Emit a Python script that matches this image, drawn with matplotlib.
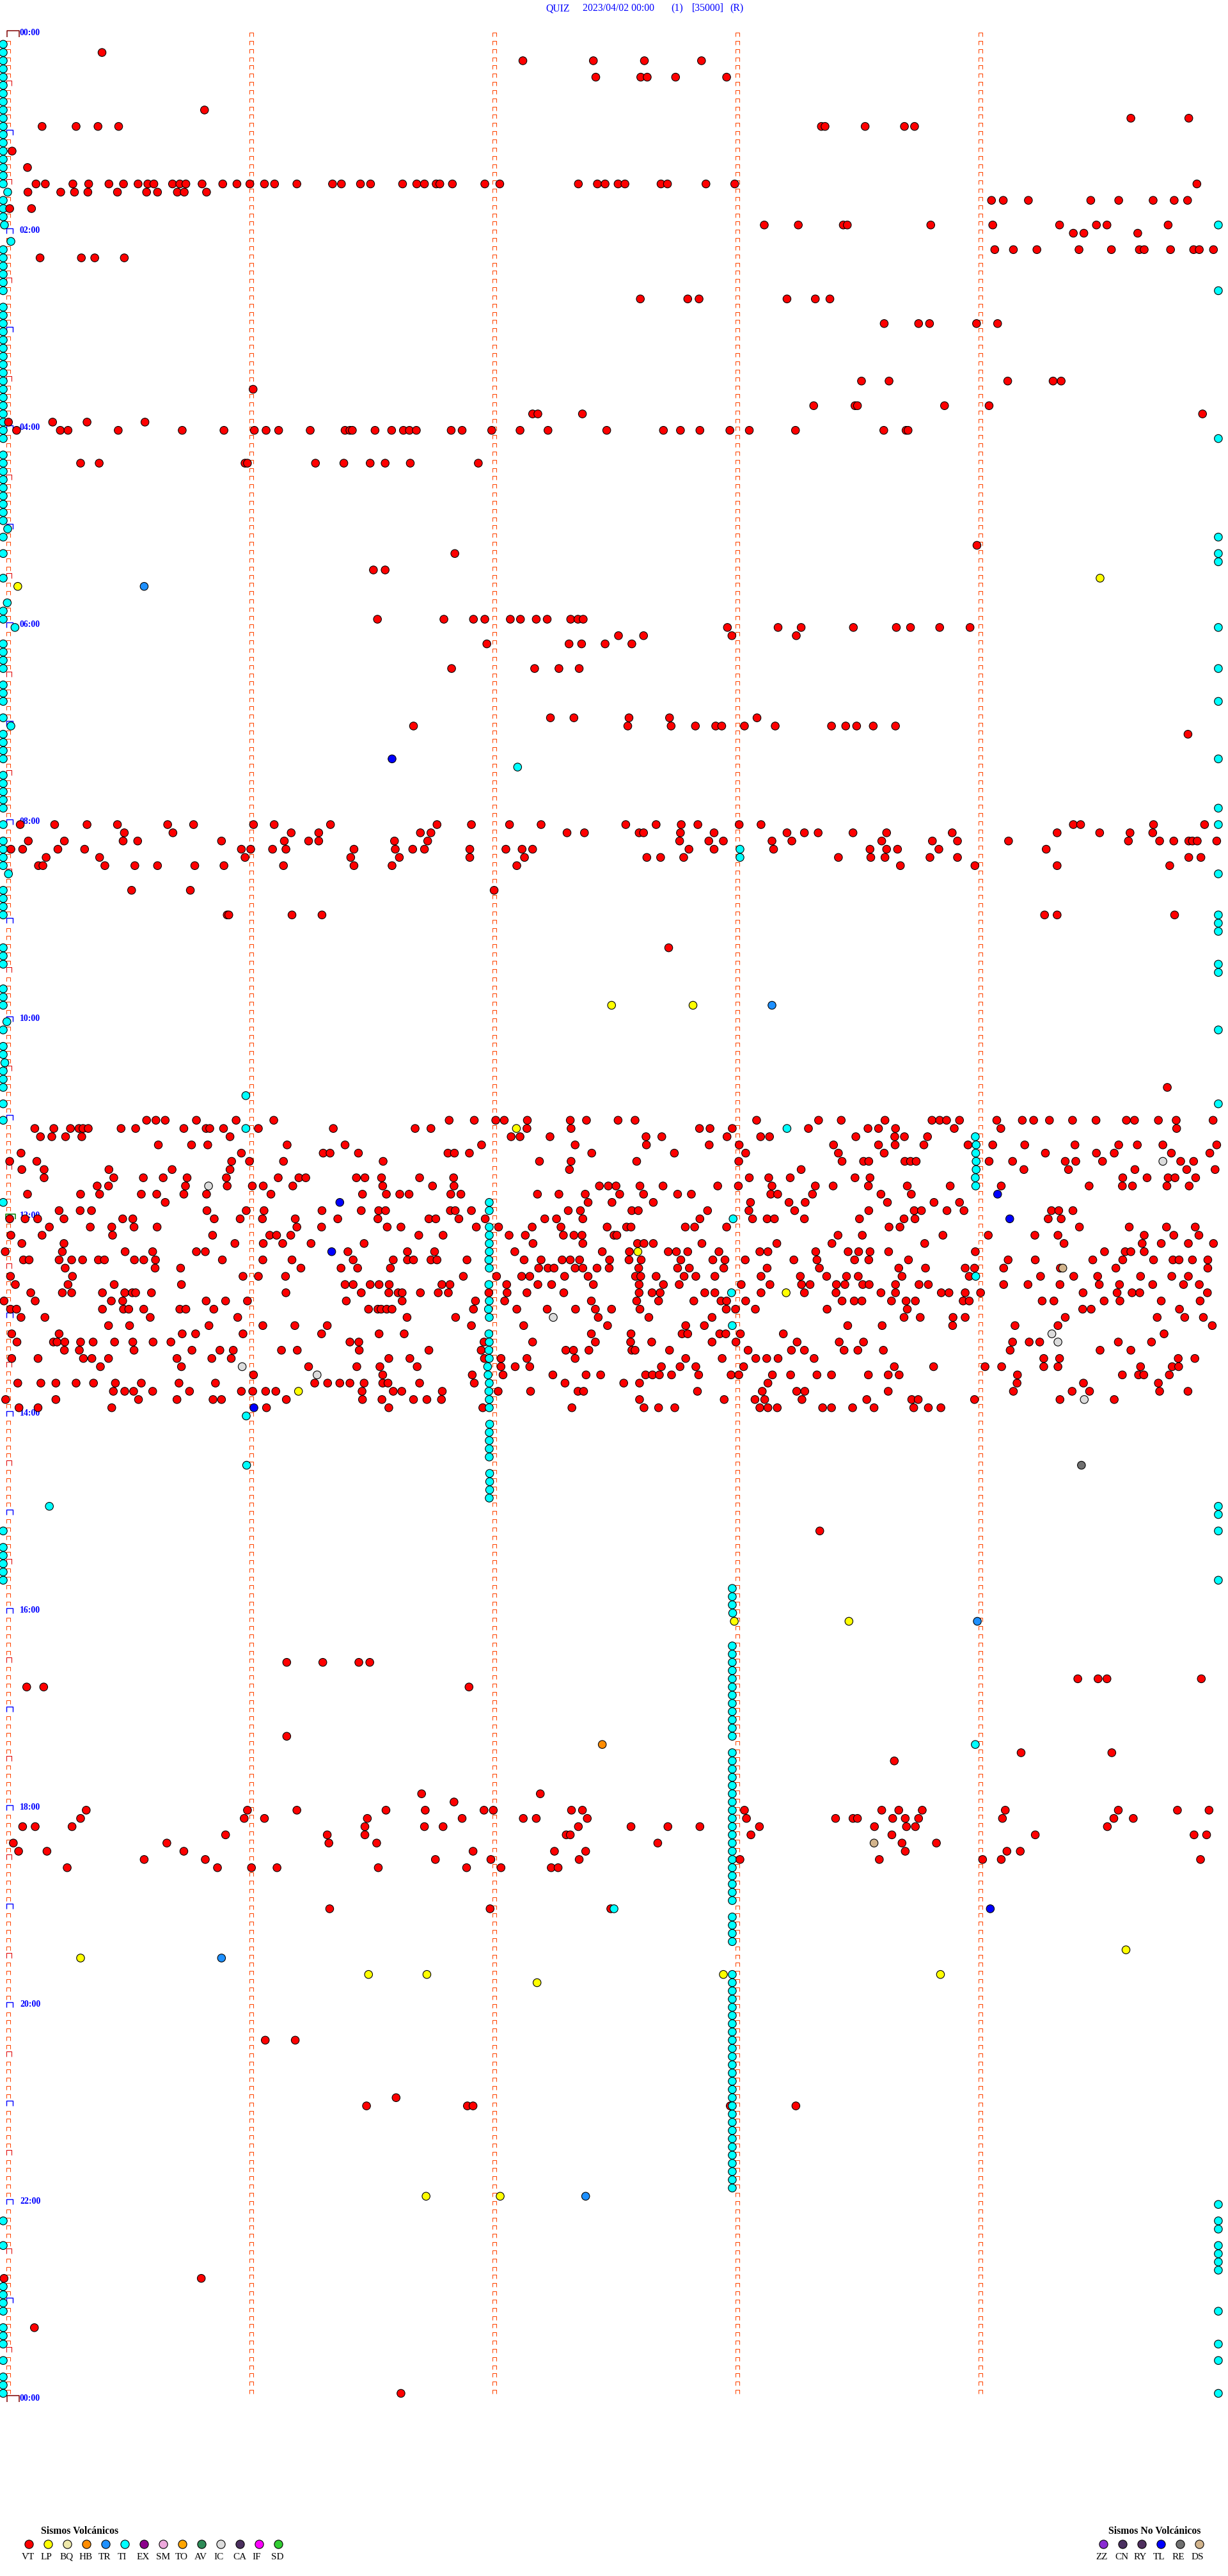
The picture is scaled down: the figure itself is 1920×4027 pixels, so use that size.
import matplotlib
matplotlib.use('Agg')
import matplotlib.pyplot as plt
from matplotlib.path import Path

# one row per 5 minutes, x is the second inside that row
# {row: [seconds]}
vt_00_04 = {
    2: [24.4], 3: [128.3, 145.7, 158.3, 172.4],
    5: [146.3, 157.4, 159, 166, 178.6], 9: [49.7],
    10: [278.4, 292.7],
    11: [9.6, 18, 23.4, 28.5, 202, 202.9, 212.8, 222.5, 225],
    14: [2.2], 16: [6],
    18: [8.1, 10.4, 17.2, 21.1, 26.1, 29.7, 33.3, 35.7, 37.2, 41.8, 43.6, 45.1, 49.1, 54.2, 57.7, 60.9,
         64.5, 67, 72.5, 81.3, 83.5, 88.2, 90.7, 98.6, 102.1, 104, 106.9, 107.8, 110.9, 118.9, 122.6,
         142, 146.7, 148.6, 151.8, 153.5, 162.4, 164, 173.5, 180.6, 294.7],
    19: [6.1, 14.2, 17.6, 20.9, 28.2, 35.4, 38.1, 43, 44.7, 50.2],
    20: [244, 246.9, 253.1, 268.5, 275.4, 283.9, 289.1, 292.4],
    21: [1.6, 7],
    23: [187.9, 196.3, 207.4, 208.4, 229, 244.3, 260.8, 269.9, 272.5, 287.6],
    24: [264.2, 266.8, 280.1],
    26: [244.8, 249.4, 255.2, 265.6, 273.6, 280.5, 281.7, 288.2, 293.9, 295.3, 298.8],
    27: [9.1, 19.3, 22.6, 29.9],
    32: [157.3, 169, 171.8, 193.5, 200.5, 204.1],
    35: [217.5, 226, 228.7, 240.3, 245.5],
    42: [211.9, 218.7, 248, 259.2, 261.2],
    43: [61.7],
    45: [200.1, 210.3, 210.9, 232.4, 243.4],
    46: [130.7, 132, 143, 296.1],
    47: [1.3, 12.2, 20.7, 35],
    48: [3.3, 14.1, 16, 28.4, 44.2, 54.5, 62, 64.9, 68, 75.8, 84.4, 85.6, 86.2, 91.8, 95.9, 98.8, 100.3,
         102, 110.6, 113.3, 120.6, 127.6, 134.5, 149, 163, 167.2, 172, 179.4, 184.2, 195.6, 217.4, 222.9, 223.4],
    52: [19.1, 23.7, 59.7, 60.3, 77.1, 84.1, 90.6, 94.3, 100.5, 117.3],
}

vt_05_10 = {
    62: [240.4], 63: [111.5], 65: [91.4, 94.3],
    71: [92.4, 108.8, 116.1, 118.9, 125.2, 127.7, 131.6, 134.3, 140.1, 141.9, 143.2],
    72: [178.8, 191.3, 197, 209.9, 220.5, 224, 231.2, 238.7],
    73: [151.9, 158.1, 179.9, 195.8],
    74: [119.4, 139.7, 142.8, 148.6, 155.2],
    77: [110.7, 131.2, 137.2, 142.2],
    83: [135.1, 140.9, 154.5, 164.5, 186.1],
    84: [101.3, 154.2, 164.9, 170.9, 175.9, 177.4, 183, 190.6, 204.5, 208, 210.7, 214.8, 220.3],
    85: [292.5],
    96: [4.2, 12.7, 20.7, 28.2, 40.6, 47, 61.8, 66.9, 80.8, 107.1, 115.6, 125, 132.8, 153.7, 161.2, 167.4,
         171.5, 181.7, 187.1, 264.2, 266, 284, 296.6],
    97: [29.9, 41.9, 71.1, 77.9, 103, 105.6, 139.2, 143.5, 157, 158.1, 167.2, 175.5, 193.5, 197.8, 201.2,
         209.8, 218.1, 234.3, 260.2, 270.7, 278.2, 283.8],
    98: [6.2, 15.1, 29.6, 33.2, 53.9, 69.4, 75.4, 77.9, 96.6, 104.8, 167, 174.2, 177.8, 189.8, 194.7, 216.9,
         229.4, 235.6, 248.2, 277.8, 285.5, 289, 292.7, 293.6, 294.8, 299.6],
    99: [1.9, 4.8, 13.5, 20.1, 58.8, 61.1, 66.5, 69.8, 86.6, 96.8, 101.1, 104, 115.2, 124.1, 128.1, 130.7,
         169.3, 175.5, 190.2, 214, 218.1, 220.8, 231, 257.5],
    100: [10.6, 23.8, 59.7, 85.8, 97.8, 115.2, 128.7, 158.9, 162.3, 168, 206.2, 214.2, 217.7, 228.8, 235.6,
          292.7, 295.7],
    101: [8.7, 9.8, 25.1, 32.5, 38.1, 47.3, 54.5, 69.2, 86.6, 96, 126.8, 221.5, 239.9, 260.2, 288],
    104: [31.7, 46.2, 121.2],
    107: [55.3, 55.7, 71.3, 78.7, 257.1, 260.2, 289.2],
    111: [164.3], 128: [287.4],
}

vt_11_12 = {
    132: [35.4, 37.7, 40, 47.7, 57.5, 66.8, 110.1, 116.3, 121.6, 123.7, 129.4, 140, 144, 151.8, 156, 186, 201.3,
          206.9, 217.7, 229.3, 231.2, 232.9, 236.1, 245.3, 251.6, 254.4, 258.3, 264, 269.8, 277.3, 279.3, 285.2,
          289.6, 298.7],
    133: [7.8, 12.5, 16.6, 18.7, 19.7, 21, 29.1, 32.7, 44.6, 50.1, 51, 54.4, 63, 81.5, 101.7, 105.6, 129.3,
          140.2, 171.9, 174.5, 180, 198.8, 213.5, 216.1, 220.3, 234.8, 246.3, 289.7],
    134: [9.2, 12, 15.4, 19.4, 56, 125.4, 127.6, 135, 158.7, 162.6, 178.7, 187, 189.2, 210.5, 220.1, 222.5, 228.2],
    135: [38.3, 46.5, 50.5, 70.1, 84.4, 118.1, 141.2, 158.8, 174.3, 181.7, 205, 216.1, 220.2, 227.3, 238.2, 244.3,
          252.2, 264.6, 275.4, 280, 286.3, 299.6],
    136: [4.4, 58.8, 79, 80.7, 87.7, 109.8, 111.4, 115.1, 145.3, 165.7, 183.3, 206.2, 217.5, 257.3, 269.9, 274.3,
          288.4, 297.9],
    137: [1.6, 8.3, 56.4, 60.8, 69.2, 93.8, 132.4, 140.2, 156.4, 181.6, 207.1, 212.4, 213.7, 222.6, 224, 225.4,
          243.4, 249.2, 262.2, 264.8, 271.4, 290.7, 293.9],
    138: [4.6, 10.1, 26.1, 41.7, 56, 139.8, 197, 252, 263, 279.4, 292.2, 299.2],
    139: [10.1, 27.3, 34.6, 39.5, 45.4, 55.1, 67.9, 73, 74.7, 87.2, 89.3, 93.4, 102.8, 111.2, 184.2, 189, 194.3,
          210.3, 214, 276.4, 282.4, 287.6, 289.3, 294.4],
    140: [23.2, 26, 45, 55.3, 61.5, 64.2, 71.5, 93.7, 106, 111.3, 147.2, 149.4, 151.3, 157.2, 162.9, 176.4, 181.5,
          189.8, 200.5, 204.9, 213.6, 223.2, 233.8, 246.4, 268.1, 276.3, 278.8, 287.3, 292.8],
    141: [6, 19.1, 23.8, 34.1, 37.9, 44.6, 50.2, 66.1, 88.7, 94.6, 97.9, 100.2, 110.5, 113, 131.9, 137.2, 143.7,
          152.2, 158.1, 166.5, 169.9, 189.5, 191.2, 199.8, 216.7, 224.2],
    142: [40, 144.4, 150.3, 160.5, 184.5, 194, 198, 218.3, 229.8, 236.1],
    143: [13.8, 19, 21.8, 50.3, 60, 64.4, 78.7, 88.4, 92.7, 94.4, 110.4, 111.6, 115.6, 139.5, 142.5, 155.2, 156.8,
          173.9, 184.1, 195.4, 213.7, 224.9, 226.7, 233, 237.2, 258.8, 260.6, 264.1],
    144: [1.6, 5.4, 8.5, 15, 29.5, 32, 52.1, 58.5, 64, 72.1, 82.6, 92.5, 105.1, 106.8, 112.5, 119, 133.7, 136.6,
          143.1, 172, 185, 188.6, 190.4, 197.8, 211.4, 222.4, 225.1, 258, 261.2],
    145: [11.4, 21.5, 26.8, 32.3, 38, 72.5, 78.6, 94.8, 98.2, 116.8, 122.3, 130.6, 137.7, 149.1, 153.9, 155, 168.4,
          170.7, 178.6, 218.7, 221.4, 265.7, 278, 287.2, 294.3],
    146: [1.9, 9.6, 27, 51.7, 65.8, 67.5, 71, 102.6, 108.6, 124.9, 128.9, 138.3, 140.9, 142.9, 150.8, 151.5, 206.1,
          212.1, 232, 243.2, 254.7, 260.4, 281.7, 289, 295.2],
    147: [4.6, 15, 57.2, 64.2, 69, 76, 89.1, 130.8, 143.1, 156.6, 158.2, 160.5, 172.5, 191, 204.6, 227.5, 261.9,
          281.2, 285.9, 292.6, 298.8],
    148: [0.5, 14.6, 30.1, 36.9, 47.7, 49.9, 85.1, 99.8, 106.5, 126.3, 147.9, 154.6, 164.2, 166.2, 169, 176.7, 186.8,
          188.8, 200.6, 208.6, 211.2, 214, 218.6, 240, 271.9, 277, 278.4, 281.7],
    149: [5, 6.4, 13.8, 16.9, 19.6, 23.5, 25, 32.4, 34.7, 37.6, 54.1, 64.1, 71.3, 86.4, 96.3, 99.8, 101.3, 105.6,
          107.1, 114.5, 128.6, 132.8, 138, 140, 142.3, 149.7, 154.5, 157.5, 167.3, 175.2, 178.2, 183.2, 195.2, 200.9,
          210.2, 213.7, 223.5, 248.1, 254.8, 269, 276.4, 284, 288.8, 290.3, 293.6, 297.4],
}

vt_12_14 = {
    150: [15.3, 37.5, 43.8, 73.5, 83.4, 87.5, 95.6, 132.2, 134.5, 136, 141.2, 143.1, 146.6, 149.6, 156.9, 166.5,
          169.4, 177.9, 188.6, 201.5, 221.1, 227.7, 237.5, 239.8, 247, 261, 274.7, 297.4],
    151: [1.8, 17.1, 59.2, 63, 69.7, 113.6, 121.8, 128, 130, 138.6, 144.4, 156.1, 157.4, 161.2, 168.1, 171, 175.7,
          187.1, 196.8, 203.3, 208.2, 211.1, 221.9, 238.5, 256.1, 264.3, 270.2, 280.8, 288.5, 292.6],
    152: [3, 16, 27.4, 44, 84.4, 86.4, 90.6, 92.8, 95.3, 108.3, 110.3, 124.3, 132, 135.4, 145.7, 157, 163, 166.9,
          182.2, 189.3, 197.1, 199.2, 205.7, 207.8, 212.2, 213.8, 220.3, 226.1, 228.4, 247, 253, 260.9, 270.6, 275.6,
          283.8, 291.4, 295.3],
    153: [6.8, 14.6, 16.9, 24.5, 30, 31.9, 32.7, 36.6, 69.8, 88.4, 95.2, 97.5, 98.5, 103, 107.4, 109.9, 119.9, 124.4,
          129.3, 138.4, 157, 160.2, 162.2, 173.2, 175.7, 187.1, 197.8, 205.6, 216.7, 220.3, 231.6, 233.5, 237.5, 241.3,
          266.6, 275, 278.7, 280.6, 297.3],
    154: [0.2, 7.9, 26.7, 29.5, 50.1, 54.9, 60.3, 84.7, 98.5, 116.6, 123.8, 145.2, 156.4, 161.8, 170.5, 177.2, 178.6,
          183.3, 207.1, 210.1, 212, 219.3, 222.9, 225.2, 237, 238.5, 256.5, 259.4, 271.8, 275.7, 285.9, 295.5],
    155: [1.8, 3.3, 24.5, 29.7, 31, 34.7, 43.6, 45.1, 52, 90.2, 92.5, 93.3, 94.7, 96, 116.1, 126.8, 134.3, 141.3, 146.2,
          150.2, 157.2, 178.5, 180.8, 185.7, 203.4, 223.2, 266.5, 268.6, 290.4],
    156: [4.4, 10.3, 36.3, 57.9, 99.7, 111.7, 146.9, 159.4, 175, 222.4, 226.4, 234.5, 237.5, 262.2, 284.9, 291.7, 296.3],
    157: [26, 31.2, 50.8, 64.1, 72, 80, 115.6, 128.5, 149.2, 168.5, 173.1, 208.5, 217, 234.4, 249.8, 260.4, 298.5],
    158: [2.1, 13.8, 44.2, 47.5, 59.2, 78.6, 92.8, 99, 145.2, 155, 167.6, 169, 176.9, 178.4, 182, 192.6, 286.6],
    159: [3.4, 12.4, 13.3, 15.2, 19.1, 22.2, 27.5, 32, 37, 41.4, 85.6, 87.8, 118.7, 130.7, 146.2, 154.9, 160.1, 175,
          180.9, 196, 206.4, 212.4, 249.2, 253.3, 255.9, 275.3, 283.5],
    160: [15.1, 18.8, 32.3, 46.6, 53.5, 56.8, 68.7, 72.6, 87.9, 105.1, 118, 138.9, 140.8, 144.6, 155.2, 156, 164.5,
          183.9, 194.6, 197.8, 207.6, 211, 217.3, 248.6, 270.8, 278.4],
    161: [2.1, 8.6, 19.8, 21.9, 26, 42.9, 51.5, 56.3, 95.2, 100.4, 118.8, 122.9, 129.3, 141.2, 168.5, 177.5, 185.8,
          188.5, 191.3, 200.2, 256.9, 260.8, 290.1, 294.2],
    162: [24, 44, 75.4, 87.3, 93, 102.2, 122.9, 126.4, 130, 162.5, 167.1, 171, 182.8, 220, 229.7, 242.4, 246.5, 256.9,
          260.4, 280.8, 288.6, 290.2],
    163: [61.8, 93.7, 115.8, 123.4, 135.7, 143.9, 147.5, 158.6, 160.3, 162, 165, 171.7, 179.7, 181.6, 189.9, 194.4,
          200.9, 204.5, 213.6, 218.5, 221.2, 250.4, 276.3, 280.3, 281.6, 287.9],
    164: [3.6, 9.3, 13, 18, 22.3, 27.7, 34.1, 43.4, 52.4, 76.9, 80.1, 83.1, 85.6, 89.1, 93.7, 95, 102.8, 116.3, 138.7,
          153.2, 157.1, 188.8, 250.3, 266.7, 285.2],
    165: [27.2, 30, 32.2, 36.9, 46, 58.8, 61.6, 64.8, 67.3, 88.6, 96.3, 98.4, 108.4, 122.2, 130.2, 141.9, 143.3, 171.4,
          187.4, 195.9, 197.9, 218.5, 249.4, 263.9, 268.2, 285.5, 292.5],
    166: [0.6, 13, 33.4, 42.9, 51.8, 53.9, 69.9, 88.7, 93.5, 101.3, 104.6, 108.2, 157.1, 178, 185.6, 188, 197.2, 213.2,
          224.3, 225.9, 239.8, 260.9, 274.3],
    167: [3.9, 8.6, 26.8, 65, 95.2, 118.4, 140.4, 158.2, 161.8, 165.8, 186.8, 188.8, 191.1, 202.3, 204.5, 209.7, 215,
          224.8, 228.4, 231.5],
}

vt_15_24 = {
    182: [201.6],
    198: [70, 78.9, 87.8, 90.5], 200: [265.3, 270.3, 272.5, 295.8], 201: [5.8, 10, 115],
    207: [70], 209: [251.3, 273.7], 210: [220],
    214: [103.3, 132.6], 215: [111.3],
    216: [20.5, 60.3, 72.5, 94.5, 104.2, 118.7, 121, 140.3, 143, 183, 216.9, 221.1, 226.9, 247.4, 275.3, 289.9, 297.7],
    217: [19.1, 59.5, 64.5, 89.9, 113.3, 128.4, 131.6, 144.2, 183.5, 205.5, 209.8, 210.9, 219.6, 222.7, 226, 246.7,
          274.2, 279],
    218: [4.8, 7.9, 17, 89.3, 104, 108.6, 142, 155, 164.1, 172, 186.7, 215.1, 223, 225.2, 272.6],
    219: [54.9, 80, 89.3, 139, 140, 184.6, 219.4, 254.8, 294, 297.1],
    220: [2.5, 40.4, 80.4, 92.2, 161.6, 221.9, 230.4],
    221: [3.8, 10.8, 44.6, 116, 136.1, 143.8, 222.7, 247.8, 251.1],
    222: [34.8, 49.9, 106.7, 120.4, 142.2, 181.9, 216.3, 241.8, 246.4, 295.6],
    223: [15.8, 52.9, 61.3, 67.6, 92.6, 114.4, 122.9, 135.3, 137],
    228: [80.6, 120.2, 150],
    244: [64.7, 72.1], 251: [97], 252: [89.7, 114.6, 116, 179.5, 195.7],
    273: [0.2, 48.9], 279: [7.7], 287: [98.2],
}

# TI sits against the edges of the row for most of the day
ti_start_rows = [1, 2, 3, 4, 5, 6, 7, 8, 9, 10, 11, 12, 13, 14, 15, 16, 17, 18, 20, 21, 22, 26, 27, 28, 29, 30, 31,
                 33, 34, 35, 36, 37, 38, 39, 40, 41, 42, 43, 44, 45, 46, 47, 48, 49, 51, 52, 53, 54, 55, 56, 57, 58,
                 59, 61, 63, 66, 70, 71, 74, 75, 76, 77, 79, 80, 81, 83, 85, 86, 87, 88, 90, 91, 92, 93, 94, 96, 98,
                 99, 100, 101, 104, 105, 106, 107, 111, 112, 113, 116, 117, 118, 121, 123, 124, 126, 127, 128, 130,
                 132, 142, 182, 184, 185, 186, 187, 188, 266, 269, 274, 275, 276, 277, 279, 280, 281, 283, 285, 286, 287]
ti_end_rows = [23, 31, 49, 61, 63, 64, 72, 77, 81, 88, 94, 96, 102, 107, 108, 109, 113, 114, 121, 130, 179, 180, 182,
               188, 264, 266, 267, 269, 270, 271, 272, 277, 281, 283, 287]
ti_other = {
    19: [1.1], 23: [0.3], 25: [1.9], 60: [1.1], 69: [1], 72: [2.9], 84: [1.9], 89: [127], 99: [181.9], 100: [181.9],
    102: [1.3], 120: [0.9], 125: [0.4], 129: [59.9], 133: [59.9, 193.5], 134: [240], 135: [240.2], 136: [240.1],
    137: [240.2], 138: [240.2], 139: [240], 140: [240.1], 142: [120], 143: [120], 144: [180.2], 145: [120], 146: [120],
    147: [120], 148: [120], 149: [119.9], 150: [120], 151: [240.1], 152: [119.9], 153: [179.8], 154: [120], 155: [119.8],
    156: [120], 157: [180], 158: [119.9], 159: [120], 160: [119.9], 161: [120], 162: [119.6], 163: [119.7], 164: [120],
    165: [119.9], 166: [120], 167: [120], 168: [60], 169: [120.1], 170: [120], 171: [120], 172: [120], 173: [120],
    174: [60.1], 175: [120.1], 176: [120.1], 177: [120.1], 178: [120], 179: [11.4], 189: [180], 190: [180], 191: [180],
    192: [180.1], 196: [180], 197: [180], 198: [180], 199: [180], 200: [180], 201: [180], 202: [180], 203: [180],
    204: [180], 205: [180], 206: [180], 207: [180], 208: [240], 209: [180], 210: [180], 211: [180],
    212: [180], 213: [180], 214: [180], 215: [180], 216: [180], 217: [180], 218: [180], 219: [180], 220: [180],
    221: [180], 222: [180], 223: [180], 224: [180], 225: [180], 226: [180], 227: [180], 228: [150.8], 229: [180],
    230: [180], 231: [180], 232: [180], 236: [180], 237: [180], 238: [180], 239: [180], 240: [180], 241: [180],
    242: [180], 243: [180], 244: [180], 245: [180], 246: [180], 247: [180], 248: [180], 249: [180], 250: [180],
    251: [180], 252: [180], 253: [180], 254: [180], 255: [180], 256: [180], 257: [180], 258: [180], 259: [180],
    260: [180], 261: [180], 262: [180],
}

lp_events = {66: [270.8], 67: [3.6], 118: [150.2, 170.3], 133: [126.7], 148: [156.7], 153: [193.3], 165: [72.9],
             193: [180.5, 208.8], 233: [277.2], 234: [19.1], 236: [90.2, 104.6, 177.8, 231.4], 237: [131.8],
             263: [104.4, 122.7]}
tr_events = {67: [34.8], 118: [189.8], 193: [240.5], 234: [53.9], 263: [143.8]}
tl_events = {88: [96], 141: [245.5], 142: [83.1], 144: [248.5], 148: [81.1], 167: [61.9], 228: [243.7]}
ic_events = {137: [286.3], 140: [50.7], 156: [135.8], 158: [258.9], 159: [260.4], 162: [59], 163: [77.5], 166: [266.9]}
ds_events = {150: [261.6], 220: [215]}
hb_events = {208: [147.9]}
re_events = {174: [266.2]}

volc_codes = ['VT', 'LP', 'BQ', 'HB', 'TR', 'TI', 'EX', 'SM', 'TO', 'AV', 'IC', 'CA', 'IF', 'SD']
volc_colors = ['#FF0000', '#FFFF00', '#EEE8AA', '#FF8C00', '#1E90FF', '#00FFFF', '#8B008B', '#EEA9DD', '#FFA500',
               '#2E8B57', '#DCDCDC', '#4B2F5E', '#FF00FF', '#32CD32']
other_codes = ['ZZ', 'CN', 'RY', 'TL', 'RE', 'DS']
other_colors = ['#8A2BD2', '#4B3060', '#4F2F5E', '#0000FF', '#707070', '#D2B48C']
hour_labels = ['00:00', '02:00', '04:00', '06:00', '08:00', '10:00', '12:00', '14:00', '16:00', '18:00', '20:00',
               '22:00', '00:00']
colors = dict(zip(volc_codes + other_codes, volc_colors + other_colors))

ROW_PX = 12.84
SEC_PX = 6.333
SERIF = 'Liberation Serif'


def collect(code, events):
    out = []
    for row, secs in events.items():
        out.extend((row, sec, code) for sec in secs)
    return out


def gate_marker(w=1, h=1):
    # the little open box the drum plot uses for its time marks
    return Path([(-w / 2, -h / 2), (-w / 2, h / 2), (w / 2, h / 2), (w / 2, -h / 2)],
                [Path.MOVETO, Path.LINETO, Path.LINETO, Path.LINETO])


events = []
for block in (vt_00_04, vt_05_10, vt_11_12, vt_12_14, vt_15_24):
    events += collect('VT', block)
events += [(r, 0, 'TI') for r in ti_start_rows]
events += [(r, 300, 'TI') for r in ti_end_rows]
events += collect('TI', ti_other)
events += collect('LP', lp_events) + collect('TR', tr_events) + collect('TL', tl_events)
events += collect('IC', ic_events) + collect('DS', ds_events) + collect('HB', hb_events) + collect('RE', re_events)
# drawn in time order, later quakes cover earlier ones
events.sort(key=lambda e: (e[0], e[1]))

fig = plt.figure(figsize=(19.2, 40.27), dpi=100)
ax = fig.add_axes([0, 0, 1, 1])
ax.set_xlim(-5 / SEC_PX, (1920 - 5) / SEC_PX)
ax.set_ylim((4027 - 56.4) / ROW_PX, -56.4 / ROW_PX)
ax.axis('off')

# minute marks
gate = gate_marker()
for minute in range(5):
    rows = [r for r in range(288) if minute > 0 or r % 6 != 0]
    ax.plot([minute * 60 + 1.2] * len(rows), [r - 0.18 for r in rows], ls='none', marker=gate, ms=3.8,
            mfc='none', mec='#FF4500', mew=0.75, zorder=1)

# half hour and hour marks on the left edge
for r in range(0, 289, 6):
    if r % 288 == 0:
        col, w, h, x, lw = '#800000', 19, 10, 2.3, 1.1
    elif r == 144:
        col, w, h, x, lw = '#008000', 15, 8, 1.7, 1.1
    elif r % 12 == 0:
        col, w, h, x, lw = '#0000FF', 10, 8, 1.65, 1.0
    else:
        col, w, h, x, lw = '#E00000', 8, 8, 1.4, 0.75
    ax.plot([x], [r - 0.3], ls='none', marker=gate_marker(w, h), ms=max(w, h) * 0.72, mfc='none', mec=col,
            mew=lw, zorder=1)

for i, lab in enumerate(hour_labels):
    ax.text(4.1, i * 24 - 0.35, lab, color='#0000FF', family=SERIF, fontsize=10, fontweight='bold', va='center',
            ha='left', zorder=1)

ax.scatter([e[1] for e in events], [e[0] for e in events], s=80, c=[colors[e[2]] for e in events],
           edgecolors='black', linewidths=0.8, zorder=3, clip_on=True)

# header and legends go on a pixel overlay
top = fig.add_axes([0, 0, 1, 1])
top.set_xlim(0, 1920)
top.set_ylim(4027, 0)
top.axis('off')
top.patch.set_alpha(0)

for x, s in [(853, 'QUIZ'), (911, '2023/04/02 00:00'), (1049, '(1)'), (1082, '[35000]'), (1141, '(R)')]:
    top.text(x, 13, s, color='#0000FF', family=SERIF, fontsize=11.3, va='center', ha='left')

top.text(64, 3957, 'Sismos Volcánicos', family=SERIF, fontsize=11.3, fontweight='bold', va='center', ha='left')
top.text(1733, 3957, 'Sismos No Volcánicos', family=SERIF, fontsize=11.3, fontweight='bold', va='center', ha='left')
for i, code in enumerate(volc_codes):
    top.scatter([45.3 + 30 * i], [3977], s=90, c=colors[code], edgecolors='black', linewidths=0.8)
    top.text(34 + 30 * i, 3997, code, family=SERIF, fontsize=11, va='center', ha='left')
for i, code in enumerate(other_codes):
    top.scatter([1725.3 + 30 * i], [3977], s=90, c=colors[code], edgecolors='black', linewidths=0.8)
    top.text(1713 + 30 * i, 3997, code, family=SERIF, fontsize=11, va='center', ha='left')

fig.savefig('out.png', dpi=100)
